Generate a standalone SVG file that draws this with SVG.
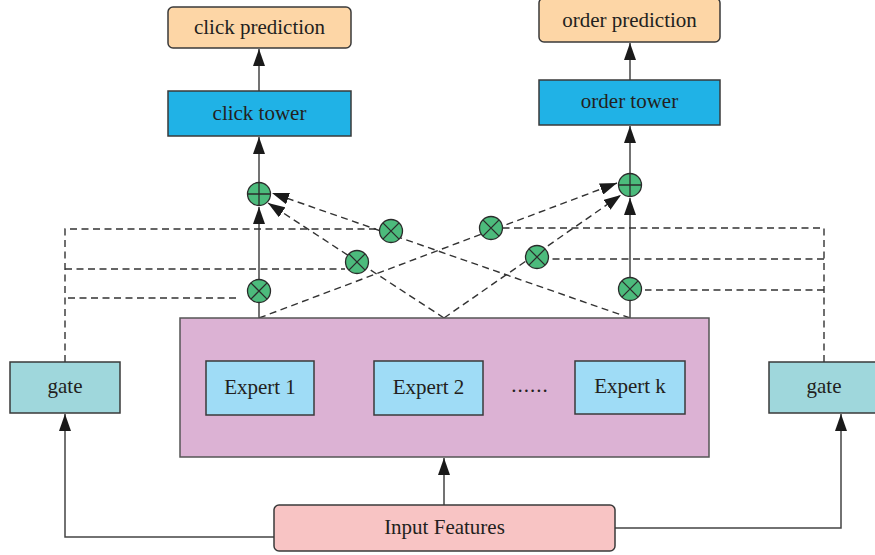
<svg xmlns="http://www.w3.org/2000/svg" width="875" height="555" viewBox="0 0 875 555">
  <style>
    .box { stroke: #3a3a3a; stroke-width: 1.5; }
    .pred { fill: #FDD6A6; }
    .tower { fill: #20B2E6; }
    .pool { fill: #DCB2D4; stroke: #555; stroke-width: 1.5; }
    .expert { fill: #9FDCF6; }
    .gate { fill: #9FD7DC; }
    .input { fill: #F8C4C4; }
    .lbl { font-family: "Liberation Serif", "Times New Roman", serif; font-size: 21px; fill: #231f20; text-anchor: middle; }
    .solid { fill: none; stroke: #444; stroke-width: 1.5; }
    .dash { fill: none; stroke: #333; stroke-width: 1.4; stroke-dasharray: 7 4.5; }
    .op { fill: #4CBB7C; stroke: #2b2b2b; stroke-width: 1.3; }
    .opline { stroke: #2b2b2b; stroke-width: 1.3; }
  </style>
  <defs>
    <marker id="arrow" markerUnits="userSpaceOnUse" markerWidth="17" markerHeight="12" refX="17" refY="6" orient="auto">
      <path d="M0,0 L17,6 L0,12 Z" fill="#1a1a1a"/>
    </marker>
  </defs>
  <rect width="875" height="555" fill="#ffffff"/>

  <!-- connectors -->
  <g id="connectors">
    <!-- tower stacks -->
    <line class="solid" x1="259" y1="91" x2="259" y2="49" marker-end="url(#arrow)"/>
    <line class="solid" x1="259" y1="182" x2="259" y2="137" marker-end="url(#arrow)"/>
    <line class="solid" x1="259" y1="318" x2="259" y2="207" marker-end="url(#arrow)"/>
    <line class="solid" x1="630" y1="80" x2="630" y2="43" marker-end="url(#arrow)"/>
    <line class="solid" x1="630" y1="173" x2="630" y2="126" marker-end="url(#arrow)"/>
    <line class="solid" x1="630" y1="318" x2="630" y2="198" marker-end="url(#arrow)"/>

    <!-- expert outputs crossing to the other tower -->
    <line class="dash" x1="630" y1="318" x2="272" y2="193" marker-end="url(#arrow)"/>
    <line class="dash" x1="444" y1="318" x2="268" y2="203" marker-end="url(#arrow)"/>
    <line class="dash" x1="259" y1="318" x2="617" y2="183" marker-end="url(#arrow)"/>
    <line class="dash" x1="444" y1="318" x2="621" y2="195" marker-end="url(#arrow)"/>

    <!-- left gate weights -->
    <polyline class="dash" points="65,362 65,229 379,229"/>
    <line class="dash" x1="65" y1="269" x2="345" y2="269"/>
    <line class="dash" x1="68" y1="298" x2="237" y2="298"/>

    <!-- right gate weights -->
    <polyline class="dash" points="824,362 824,228 503,228"/>
    <line class="dash" x1="824" y1="259" x2="549" y2="259"/>
    <line class="dash" x1="824" y1="290" x2="645" y2="290"/>

    <!-- input features fan-out -->
    <line class="solid" x1="444" y1="505" x2="444" y2="458" marker-end="url(#arrow)"/>
    <polyline class="solid" points="274,537 65,537 65,414" marker-end="url(#arrow)"/>
    <polyline class="solid" points="615,528 841,528 841,414" marker-end="url(#arrow)"/>
  </g>

  <!-- click task -->
  <g id="click-prediction">
    <rect class="box pred" x="168" y="7" width="183" height="41" rx="5"/>
    <text class="lbl" x="259.5" y="34">click prediction</text>
  </g>
  <g id="click-tower">
    <rect class="box tower" x="168" y="91" width="183" height="45"/>
    <text class="lbl" x="259.5" y="120">click tower</text>
  </g>

  <!-- order task -->
  <g id="order-prediction">
    <rect class="box pred" x="539" y="-2" width="181" height="44" rx="5"/>
    <text class="lbl" x="629.5" y="27">order prediction</text>
  </g>
  <g id="order-tower">
    <rect class="box tower" x="539" y="80" width="181" height="45"/>
    <text class="lbl" x="629.5" y="108">order tower</text>
  </g>

  <!-- weighting / summing operators -->
  <g id="sum-click">
    <circle class="op" cx="259" cy="194" r="11.5"/>
    <path class="opline" d="M247.5,194 H270.5 M259,182.5 V205.5"/>
  </g>
  <g id="sum-order">
    <circle class="op" cx="630" cy="185" r="11.5"/>
    <path class="opline" d="M618.5,185 H641.5 M630,173.5 V196.5"/>
  </g>
  <g id="mul-click-1">
    <circle class="op" cx="259" cy="291" r="11.5"/>
    <path class="opline" d="M250.9,282.9 L267.1,299.1 M267.1,282.9 L250.9,299.1"/>
  </g>
  <g id="mul-click-2">
    <circle class="op" cx="357" cy="262" r="11.5"/>
    <path class="opline" d="M348.9,253.9 L365.1,270.1 M365.1,253.9 L348.9,270.1"/>
  </g>
  <g id="mul-click-k">
    <circle class="op" cx="391" cy="231" r="11.5"/>
    <path class="opline" d="M382.9,222.9 L399.1,239.1 M399.1,222.9 L382.9,239.1"/>
  </g>
  <g id="mul-order-1">
    <circle class="op" cx="491" cy="228" r="11.5"/>
    <path class="opline" d="M482.9,219.9 L499.1,236.1 M499.1,219.9 L482.9,236.1"/>
  </g>
  <g id="mul-order-2">
    <circle class="op" cx="537" cy="257" r="11.5"/>
    <path class="opline" d="M528.9,248.9 L545.1,265.1 M545.1,248.9 L528.9,265.1"/>
  </g>
  <g id="mul-order-k">
    <circle class="op" cx="630" cy="289" r="11.5"/>
    <path class="opline" d="M621.9,280.9 L638.1,297.1 M638.1,280.9 L621.9,297.1"/>
  </g>

  <!-- shared experts -->
  <g id="expert-pool">
    <rect class="pool" x="180" y="318" width="529" height="139"/>
  </g>
  <g id="expert-1">
    <rect class="box expert" x="206" y="361" width="108" height="54"/>
    <text class="lbl" x="260" y="394">Expert 1</text>
  </g>
  <g id="expert-2">
    <rect class="box expert" x="374" y="361" width="109" height="54"/>
    <text class="lbl" x="428.5" y="394">Expert 2</text>
  </g>
  <text class="lbl" x="530" y="392" letter-spacing="1">......</text>
  <g id="expert-k">
    <rect class="box expert" x="575" y="361" width="110" height="53"/>
    <text class="lbl" x="630" y="393">Expert k</text>
  </g>

  <!-- gates -->
  <g id="gate-click">
    <rect class="box gate" x="10" y="362" width="110" height="51"/>
    <text class="lbl" x="65" y="393">gate</text>
  </g>
  <g id="gate-order">
    <rect class="box gate" x="769" y="362" width="110" height="51"/>
    <text class="lbl" x="824" y="393">gate</text>
  </g>

  <!-- input -->
  <g id="input-features">
    <rect class="box input" x="274" y="505" width="341" height="46" rx="5"/>
    <text class="lbl" x="444.5" y="534">Input Features</text>
  </g>
</svg>
